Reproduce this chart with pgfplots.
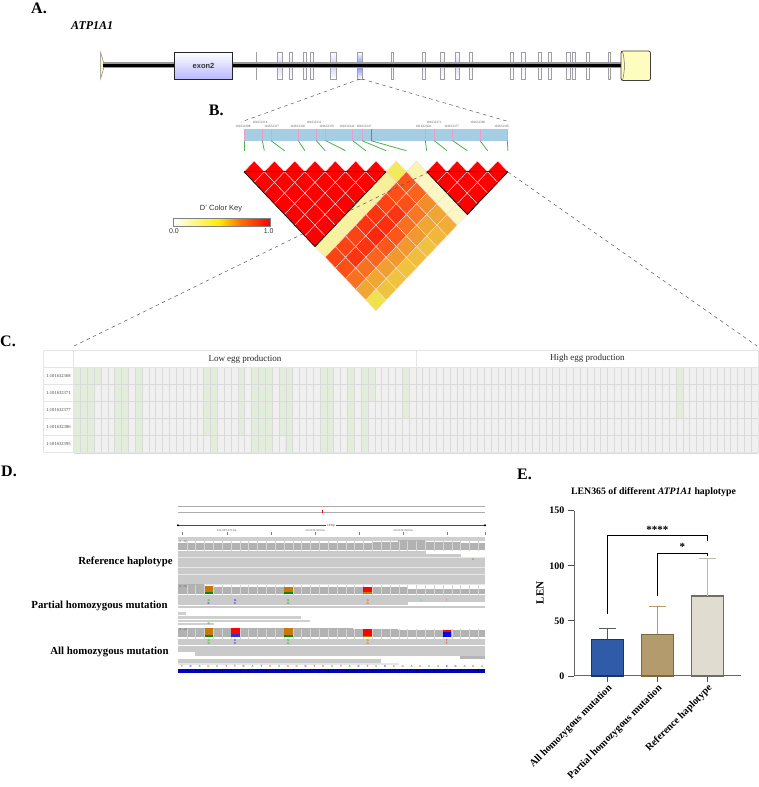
\documentclass[border=0pt]{standalone}
\usepackage{fontspec}
\setmainfont{Liberation Serif}
\setsansfont{Liberation Sans}
\usepackage{pgfplots}
\usepackage{pgfplotstable}
\pgfplotsset{compat=1.18}

\definecolor{ldband}{HTML}{A6CEE3}
\definecolor{ldtick}{HTML}{E8A0C8}
\definecolor{ldgreen}{HTML}{4CAF50}
\definecolor{cgrey}{HTML}{F0F0F0}
\definecolor{cline}{HTML}{DADADA}
\definecolor{cgreen}{HTML}{E2EEDB}
\definecolor{readc}{HTML}{CACACA}
\definecolor{readbg}{HTML}{E6E6E6}
\definecolor{covc}{HTML}{B2B2B2}
\definecolor{nucA}{HTML}{30C030}
\definecolor{nucC}{HTML}{3030D0}
\definecolor{nucG}{HTML}{D08020}
\definecolor{nucT}{HTML}{E03030}
\definecolor{mutO}{HTML}{C87808}
\definecolor{mutG}{HTML}{008C00}
\definecolor{barA}{HTML}{2F5BA8}
\definecolor{barAe}{HTML}{1A3560}
\definecolor{barB}{HTML}{B39B6E}
\definecolor{barBe}{HTML}{7A6840}
\definecolor{barC}{HTML}{E0DCD0}
\definecolor{barCe}{HTML}{6E6E66}

\newcommand{\fs}[1]{\fontsize{#1}{#1}\selectfont}
\newcommand{\rect}[5]{\addplot[fill=#5,draw=none,forget plot] coordinates {(#1,#2)(#3,#2)(#3,#4)(#1,#4)} -- cycle;}
\newcommand{\seg}[5]{\addplot[color=#5,line width=.8pt,forget plot] coordinates {(#1,#2)(#3,#4)};}
\newcommand{\exon}[3]{\addplot[draw=gray!75,line width=.7pt,top color=white,bottom color=white,middle color=#3,forget plot] coordinates {(#1,52)(#2,52)(#2,79)(#1,79)} -- cycle;}
\newcommand{\nt}[3]{\node[text=#3,font=\sffamily\bfseries\fs{3}] at (#1,666.6) {#2};}
\newcommand{\mm}[4]{\node[text=#3,font=\sffamily\bfseries\fs{3}] at (#1,#4) {#2};}
\newcommand{\plab}[3]{\node[anchor=west,font=\bfseries\fs{16},inner sep=0pt] at (#1,#2) {#3};}
\newcommand{\snp}[3]{\node[font=\fs{3.3},text=gray!70!black,inner sep=0pt] at (#1,#2) {#3};}
\newcommand{\hap}[2]{\node[font=\bfseries\fs{10.8},inner sep=0pt] at (#1) {#2};}

\pgfplotstableread{
x k
186.8 1
195.6 2
204.5 3
213.3 4
222.1 5
231 6
239.8 7
248.6 8
257.5 9
266.3 10
275.1 11
284 12
292.8 13
301.6 14
310.5 15
319.3 16
328.1 17
336.9 18
345.8 19
354.6 20
363.4 21
372.3 22
381.1 23
389.9 24
398.8 25
407.6 26
416.4 27
425.2 28
434.1 29
442.9 30
451.7 31
460.6 32
469.4 33
478.2 34
}\igvcells

\begin{document}
\begin{tikzpicture}[x=1pt,y=1pt]
\path[use as bounding box] (0,0) rectangle (759,787);

% page canvas, one unit is one pixel of the figure
\begin{axis}[
    at={(0pt,0pt)}, anchor=south west, scale only axis,
    width=759pt, height=787pt,
    xmin=0, xmax=759, ymin=0, ymax=787, y dir=reverse,
    hide axis, clip=false, clip mode=individual,
    colormap={ld}{rgb255(0pt)=(255,255,255); rgb255(45pt)=(240,232,80); rgb255(70pt)=(240,160,48); rgb255(85pt)=(250,100,30); rgb255(100pt)=(255,0,0)},
    point meta min=0, point meta max=1,
]
% A: gene model
\plab{31}{8}{A.}
\node[anchor=west,font=\bfseries\itshape\fs{12},inner sep=0pt] at (71,26) {ATP1A1};
\exon{256}{256.8}{blue!15}
\exon{277.6}{282.4}{blue!15}
\exon{289}{292}{blue!10}
\exon{303}{306.5}{blue!6}
\exon{310}{313}{blue!6}
\exon{330.6}{336}{blue!18}
\exon{357.4}{362}{blue!50}
\exon{391}{393.4}{blue!6}
\exon{422}{425.4}{blue!8}
\exon{440.8}{444.7}{blue!10}
\exon{455}{459}{blue!15}
\exon{469}{472.4}{blue!6}
\exon{510}{513}{blue!6}
\exon{521.8}{525}{blue!6}
\exon{538}{541}{blue!6}
\exon{548}{551}{blue!6}
\exon{566.8}{570}{blue!6}
\exon{572}{575}{blue!6}
\exon{586.5}{589}{blue!5}
\exon{608}{610}{blue!5}
\addplot[draw=gray,line width=.5pt,fill=yellow!25,forget plot] coordinates {(100.5,52)(104.5,65.5)(100.5,79)} -- cycle;
\addplot[color=gray!80,line width=6pt,forget plot] coordinates {(103,65.5)(623,65.5)};
\addplot[color=black,line width=3.6pt,forget plot] coordinates {(103,65.5)(623,65.5)};
\addplot[draw=black!85,line width=.9pt,top color=white,bottom color=blue!28,forget plot] coordinates {(174.5,52)(232,52)(232,79.5)(174.5,79.5)} -- cycle;
\node[font=\sffamily\bfseries\fs{7.5},text=black!80] at (203.5,65.5) {exon2};
\draw[draw=black!75,line width=.8pt,fill=yellow!25,rounded corners=2pt] (621,51) rectangle (650.5,80.5);
\draw[draw=black!60,line width=.5pt] (622.5,51.5) .. controls (625,60) and (625,72) .. (622.5,80);

% B: SNP track
\plab{208.7}{110.7}{B.}
\rect{244}{129}{507.5}{140.7}{ldband}
\addplot[color=ldtick,line width=1pt,forget plot] coordinates {(244,129)(244,140.7)};
\addplot[color=ldtick,line width=1pt,forget plot] coordinates {(262.3,129)(262.3,140.7)};
\addplot[color=ldtick,line width=1pt,forget plot] coordinates {(271,129)(271,140.7)};
\addplot[color=ldtick,line width=1pt,forget plot] coordinates {(298.3,129)(298.3,140.7)};
\addplot[color=ldtick,line width=1pt,forget plot] coordinates {(316.3,129)(316.3,140.7)};
\addplot[color=ldtick,line width=1pt,forget plot] coordinates {(325.7,129)(325.7,140.7)};
\addplot[color=ldtick,line width=1pt,forget plot] coordinates {(352.7,129)(352.7,140.7)};
\addplot[color=ldtick,line width=1pt,forget plot] coordinates {(362,129)(362,140.7)};
\addplot[color=gray,line width=1pt,forget plot] coordinates {(371,129)(371,140.7)};
\addplot[color=ldtick,line width=1pt,forget plot] coordinates {(425.3,129)(425.3,140.7)};
\addplot[color=ldtick,line width=1pt,forget plot] coordinates {(434.3,129)(434.3,140.7)};
\addplot[color=ldtick,line width=1pt,forget plot] coordinates {(452.7,129)(452.7,140.7)};
\addplot[color=ldtick,line width=1pt,forget plot] coordinates {(480,129)(480,140.7)};
\addplot[color=ldtick,line width=1pt,forget plot] coordinates {(507.3,129)(507.3,140.7)};
\seg{244}{140.7}{244}{150.7}{ldgreen}
\seg{262.3}{140.7}{264.3}{150.7}{ldgreen}
\seg{271}{140.7}{284.6}{150.7}{ldgreen}
\seg{298.3}{140.7}{304.9}{150.7}{ldgreen}
\seg{316.3}{140.7}{325.2}{150.7}{ldgreen}
\seg{325.7}{140.7}{345.5}{150.7}{ldgreen}
\seg{352.7}{140.7}{365.8}{150.7}{ldgreen}
\seg{362}{140.7}{386.1}{150.7}{ldgreen}
\seg{371}{140.7}{406.4}{150.7}{ldgreen}
\seg{425.3}{140.7}{426.7}{150.7}{ldgreen}
\seg{434.3}{140.7}{447}{150.7}{ldgreen}
\seg{452.7}{140.7}{467.3}{150.7}{ldgreen}
\seg{480}{140.7}{487.6}{150.7}{ldgreen}
\seg{507.3}{140.7}{507.9}{150.7}{ldgreen}
\snp{243}{126}{101632308}
\snp{260}{122}{101632314}
\snp{271.7}{126}{101632317}
\snp{297.7}{126}{101632326}
\snp{314}{122}{101632332}
\snp{326.7}{126}{101632335}
\snp{347}{126}{101632344}
\snp{364}{126}{101632347}
\snp{423.3}{126}{101632368}
\snp{434}{122}{101632371}
\snp{451.7}{126}{101632377}
\snp{477.7}{122}{101632386}
\snp{501.7}{126}{101632395}

% B: pairwise D' between SNP i and SNP j
\addplot[scatter, only marks, mark=square*, mark size=7.18pt,
    mark options={yscale=1.054,rotate=45,line width=.4pt},
    scatter/use mapped color={draw=white!85!red,fill=mapped color},
    scatter src=explicit, forget plot]
 table[row sep=\\, x expr=244+(\thisrow{i}+\thisrow{j}-2)*10.15, y expr=171.7+(\thisrow{j}-\thisrow{i}-1)*10.7, meta=d] {
i j d\\
1 2 1\\ 1 3 1\\ 1 4 1\\ 1 5 1\\ 1 6 1\\ 1 7 1\\ 1 8 1\\
2 3 1\\ 2 4 1\\ 2 5 1\\ 2 6 1\\ 2 7 1\\ 2 8 1\\
3 4 1\\ 3 5 1\\ 3 6 1\\ 3 7 1\\ 3 8 1\\
4 5 1\\ 4 6 1\\ 4 7 1\\ 4 8 1\\
5 6 1\\ 5 7 1\\ 5 8 1\\
6 7 1\\ 6 8 1\\
7 8 1\\
8 9 .42\\ 7 9 .27\\ 6 9 .25\\ 5 9 .25\\ 4 9 .25\\ 3 9 .25\\ 2 9 .25\\ 1 9 .25\\
9 10 .2\\ 9 11 .16\\ 9 12 .15\\ 9 13 .14\\ 9 14 .15\\
10 11 1\\ 10 12 1\\ 10 13 1\\ 10 14 1\\
11 12 1\\ 11 13 1\\ 11 14 1\\
12 13 1\\ 12 14 1\\
13 14 1\\
8 10 .87\\ 7 10 .88\\ 6 10 .9\\ 5 10 .92\\ 4 10 .92\\ 3 10 .9\\ 2 10 .9\\ 1 10 .9\\
8 11 .85\\ 7 11 .88\\ 6 11 .92\\ 5 11 .93\\ 4 11 .94\\ 3 11 .92\\ 2 11 .92\\ 1 11 .88\\
8 12 .75\\ 7 12 .8\\ 6 12 .82\\ 5 12 .87\\ 4 12 .87\\ 3 12 .85\\ 2 12 .82\\ 1 12 .82\\
8 13 .68\\ 7 13 .68\\ 6 13 .72\\ 5 13 .72\\ 4 13 .72\\ 3 13 .7\\ 2 13 .68\\ 1 13 .68\\
8 14 .65\\ 7 14 .62\\ 6 14 .58\\ 5 14 .6\\ 4 14 .58\\ 3 14 .58\\ 2 14 .58\\ 1 14 .47\\
};
\addplot[color=black,line width=.8pt,forget plot] coordinates {(244,171.7)(315,246.6)(386,171.7)};
\addplot[color=black,line width=.8pt,forget plot] coordinates {(426.7,171.7)(467.3,214.5)(507.9,171.7)};
\addplot[color=red!55!black,line width=1pt,forget plot] coordinates {(244,171.7)(386,171.7)};
\addplot[color=red!55!black,line width=1pt,forget plot] coordinates {(426.7,171.7)(507.9,171.7)};

% colour key
\node[font=\sffamily\fs{7.5},text=black!80] at (221,209) {D' Color Key};
\fill[left color=white,right color=yellow!85!orange] (173.3,218.7) rectangle (219,226);
\fill[left color=yellow!85!orange,right color=orange!90!red] (219,218.7) rectangle (240,226);
\fill[left color=orange!90!red,right color=red] (240,218.7) rectangle (270,226);
\draw[gray,line width=.6pt] (173.3,218.7) rectangle (270,226);
\node[font=\sffamily\fs{7},text=black!80] at (174,231.5) {0.0};
\node[font=\sffamily\fs{7},text=black!80] at (268.7,231.5) {1.0};

% dashed zoom lines
\addplot[color=black!65,line width=.5pt,dash pattern=on 3.5pt off 3.5pt,forget plot] coordinates {(360,79)(241,122)};
\addplot[color=black!65,line width=.5pt,dash pattern=on 3.5pt off 3.5pt,forget plot] coordinates {(362,79)(510,122)};
\addplot[color=black!65,line width=.5pt,dash pattern=on 3.5pt off 3.5pt,forget plot] coordinates {(74,346)(426.7,173)};
\addplot[color=black!65,line width=.5pt,dash pattern=on 3.5pt off 3.5pt,forget plot] coordinates {(507.9,172)(757,346)};

% C: frame around genotype table
\plab{0}{341.7}{C.}
\addplot[color=cline!70,line width=.6pt,forget plot] coordinates {(43.3,350)(758,350)(758,452.7)(43.3,452.7)} -- cycle;
\addplot[color=cline!70,line width=.6pt,forget plot] coordinates {(43.3,367.3)(73.5,367.3)};
\addplot[color=cline!70,line width=.6pt,forget plot] coordinates {(43.3,384.4)(73.5,384.4)};
\addplot[color=cline!70,line width=.6pt,forget plot] coordinates {(43.3,401.5)(73.5,401.5)};
\addplot[color=cline!70,line width=.6pt,forget plot] coordinates {(43.3,418.5)(73.5,418.5)};
\addplot[color=cline!70,line width=.6pt,forget plot] coordinates {(43.3,435.6)(73.5,435.6)};
\addplot[color=cline!70,line width=.6pt,forget plot] coordinates {(73.5,350)(73.5,367.3)};
\addplot[color=cline!70,line width=.6pt,forget plot] coordinates {(416,350)(416,367.3)};
\node[font=\fs{9},text=black!85] at (245,359) {Low egg production};
\node[font=\fs{9},text=black!85] at (587.3,358.5) {High egg production};
\node[font=\fs{4.6},text=black!75] at (58.5,375.8) {1:101632368};
\node[font=\fs{4.6},text=black!75] at (58.5,392.9) {1:101632371};
\node[font=\fs{4.6},text=black!75] at (58.5,410) {1:101632377};
\node[font=\fs{4.6},text=black!75] at (58.5,427) {1:101632386};
\node[font=\fs{4.6},text=black!75] at (58.5,444.1) {1:101632395};

% D: read pile-up
\plab{1}{471}{D.}
\hap{125.5,562}{Reference haplotype}
\hap{99.5,606}{Partial homozygous mutation}
\hap{109.5,652}{All homozygous mutation}
\addplot[color=gray!65,line width=.7pt,forget plot] coordinates {(178,506.7)(485,506.7)};
\addplot[color=gray!65,line width=.7pt,forget plot] coordinates {(178,512.3)(485,512.3)};
\rect{321.9}{509.6}{322.9}{513.4}{red}
\addplot[color=black!70,line width=.5pt,forget plot] coordinates {(178,525.3)(485,525.3)};
\addplot[only marks,mark=triangle*,mark size=1pt,color=black,forget plot] coordinates {(485,525.3)(178,525.3)};
\node[fill=white,inner sep=1pt,font=\sffamily\fs{3.2},text=black!70] at (331,525.3) {18 bp};
\node[font=\sffamily\fs{2.8},text=black!60,inner sep=0pt] at (226.7,530.5) {101,632,370 bp};
\node[font=\sffamily\fs{2.8},text=black!60,inner sep=0pt] at (315,530.5) {101,632,380 bp};
\node[font=\sffamily\fs{2.8},text=black!60,inner sep=0pt] at (403,530.5) {101,632,390 bp};
\addplot[only marks,mark=|,mark size=1.4pt,mark options={color=gray,line width=.35pt},forget plot] coordinates {(182.3,533.7)(226.7,533.7)(270.7,533.7)(315,533.7)(359,533.7)(403.3,533.7)(447.3,533.7)(484.7,533.7)};
\rect{178}{536.7}{485}{540.5}{readbg!90!black}
% track 1 coverage
\rect{178}{543}{371.7}{550}{covc}
\rect{371.7}{541.7}{398.3}{550}{covc}
\rect{398.3}{540}{425}{550}{covc}
\rect{425}{542}{460}{550}{covc}
\rect{460}{543}{485}{550}{covc}
\addplot[only marks,mark=|,mark size=5pt,mark options={color=white!45!covc,line width=.4pt},forget plot] table[x=x,y expr=545.5] {\igvcells};
\node[font=\sffamily\fs{2.5},text=black!60,anchor=west,inner sep=0pt] at (179,542.2) {[0 - 45]};
% track 1 reads
\rect{178}{554}{485}{584.8}{readbg}
\rect{178}{550.7}{425.7}{553.7}{readc}
\rect{178}{554.1}{460.7}{557.1}{readc}
\rect{178}{557.5}{485}{560.5}{readc}
\rect{178}{561}{485}{564}{readc}
\rect{178}{564.4}{485}{567.4}{readc}
\rect{178}{567.8}{485}{570.8}{readc}
\rect{178}{571.2}{485}{574.2}{readc}
\rect{178}{574.6}{485}{577.6}{readc}
\rect{178}{578}{485}{581}{readc}
\rect{178}{581.4}{485}{584.4}{readc}
\rect{460.7}{554}{485}{557.2}{white}
\mm{473.3}{A}{nucA}{559}
% track 2 coverage
\rect{178}{584.3}{204}{594}{covc}
\rect{204}{586.7}{407}{594}{covc}
\rect{407}{588.5}{485}{594}{covc}
\addplot[only marks,mark=|,mark size=5pt,mark options={color=white!45!covc,line width=.4pt},forget plot] table[x=x,y expr=590] {\igvcells};
\node[font=\sffamily\fs{2.5},text=black!60,anchor=west,inner sep=0pt] at (179,586.5) {[0 - 28]};
\rect{204.5}{586}{213.3}{592}{mutO}
\rect{204.5}{592}{213.3}{594}{mutG}
\rect{284}{586.5}{292.8}{592}{mutO}
\rect{284}{592}{292.8}{594}{mutG}
\rect{363.4}{587}{372.3}{592}{red}
\rect{363.4}{592}{372.3}{594}{mutO}
% track 2 reads
\rect{178}{594.7}{485}{597.8}{readc}
\rect{178}{598.2}{485}{601.6}{readc}
\rect{178}{602}{407.7}{605.3}{readc}
\rect{178}{605.7}{485}{608.3}{readc}
\mm{208.7}{G}{nucA}{600}
\mm{208.7}{C}{nucC}{603.6}
\mm{235.3}{G}{nucC}{600}
\mm{235.3}{C}{nucC}{603.6}
\mm{288.3}{G}{nucA}{600}
\mm{288.3}{G}{nucA}{603.6}
\mm{367.8}{G}{nucG}{600}
\mm{367.8}{G}{nucG}{603.6}
\mm{420.7}{G}{nucA!60}{600}
\mm{446.7}{T}{nucT!60}{600}
\rect{178}{612.3}{186.3}{615}{readbg!90!black}
\rect{178}{616.3}{301}{619.3}{readbg!90!black}
\rect{178}{619.5}{310}{622.3}{readbg!90!black}
\rect{178}{622.6}{213.5}{625.3}{readbg!90!black}
\mm{208.7}{G}{nucA}{623.9}
% track 3 coverage
\rect{178}{628.3}{353}{637.3}{covc}
\rect{353}{629.3}{398}{637.3}{covc}
\rect{398}{630}{485}{637.3}{covc}
\addplot[only marks,mark=|,mark size=5pt,mark options={color=white!45!covc,line width=.4pt},forget plot] table[x=x,y expr=633.5] {\igvcells};
\node[font=\sffamily\fs{2.5},text=black!60,anchor=west,inner sep=0pt] at (179,629.8) {[0 - 34]};
\rect{204.5}{628.3}{213.3}{634.5}{mutO}
\rect{204.5}{634.5}{213.3}{637.3}{mutG}
\rect{231}{628}{239.8}{634}{red}
\rect{231}{634}{239.8}{637.3}{nucC}
\rect{284}{628.3}{292.8}{634.5}{mutO}
\rect{284}{634.5}{292.8}{637.3}{mutG}
\rect{363.4}{629}{372.3}{635.5}{red}
\rect{363.4}{635.5}{372.3}{637.3}{mutO}
\rect{442.5}{630}{451}{632}{red}
\rect{442.5}{632}{451}{637.3}{blue}
% track 3 reads
\rect{178}{638.7}{485}{641.7}{readc}
\rect{178}{642}{485}{645.1}{readc}
\rect{178}{645.5}{485}{648.6}{readc}
\rect{178}{649}{485}{652}{readc}
\rect{195}{652.4}{485}{655.5}{readc}
\rect{460}{656}{485}{658.9}{readc!90!black}
\rect{178}{659}{381}{662.5}{readc}
\rect{178}{662.8}{399}{664.8}{readbg}
\mm{208.7}{G}{nucA}{640.2}
\mm{208.7}{G}{nucA}{643.6}
\mm{235.3}{C}{nucC}{640.2}
\mm{235.3}{C}{nucC}{643.6}
\mm{288.3}{G}{nucA}{640.2}
\mm{288.3}{G}{nucA}{643.6}
\mm{367.8}{G}{nucG}{640.2}
\mm{367.8}{G}{nucG}{643.6}
\mm{446.7}{T}{nucT}{640.2}
\mm{446.7}{T}{nucT}{643.6}
% reference sequence
\nt{182}{T}{nucT}\nt{190.8}{C}{nucC}\nt{199.7}{A}{nucA}\nt{208.5}{G}{nucG}\nt{217.3}{A}{nucA}
\nt{226.2}{T}{nucT}\nt{235}{T}{nucT}\nt{243.8}{C}{nucC}\nt{252.7}{A}{nucA}\nt{261.5}{T}{nucT}
\nt{270.3}{G}{nucG}\nt{279.1}{A}{nucA}\nt{288}{G}{nucG}\nt{296.8}{G}{nucG}\nt{305.6}{C}{nucC}
\nt{314.5}{T}{nucT}\nt{323.3}{G}{nucG}\nt{332.1}{A}{nucA}\nt{341}{T}{nucT}\nt{349.8}{A}{nucA}
\nt{358.6}{C}{nucC}\nt{367.5}{T}{nucT}\nt{376.3}{A}{nucA}\nt{385.1}{C}{nucC}\nt{394}{A}{nucA}
\nt{402.8}{G}{nucG}\nt{411.6}{A}{nucA}\nt{420.4}{G}{nucG}\nt{429.3}{A}{nucA}\nt{438.1}{A}{nucA}
\nt{446.9}{C}{nucC}\nt{455.8}{C}{nucC}\nt{464.6}{A}{nucA}\nt{473.4}{G}{nucG}\nt{482.3}{A}{nucA}
\rect{178}{669.3}{485}{672.7}{blue!75!black}
\addplot[only marks,mark=|,mark size=1.7pt,mark options={color=blue!45!black,line width=.6pt},forget plot] table[x=x,y expr=671] {\igvcells};

% E: labels outside the bar axis
\plab{517}{474}{E.}
\node[font=\bfseries\fs{9.8}] at (653.5,492) {LEN365 of different \textit{ATP1A1} haplotype};
\node[font=\bfseries\fs{11},rotate=90] at (540,593) {LEN};
\end{axis}

% C: genotype cells, column and row of each non-reference call
\begin{axis}[
    at={(73.5pt,334.3pt)}, anchor=south west, scale only axis,
    width=684.5pt, height=85.4pt,
    xmin=0, xmax=100, ymin=0, ymax=5, y dir=reverse,
    xtick={0,1,...,100}, ytick={0,1,...,5},
    xticklabels={}, yticklabels={},
    major tick length=0pt, grid=major,
    grid style={cline,line width=.35pt},
    axis line style={cline!70,line width=.6pt},
    axis background/.style={fill=cgrey},
    axis on top, clip mode=individual,
]
\addplot[only marks, mark=square*, mark size=1pt, color=cgreen,
    mark options={xscale=3.43,yscale=8.54,draw=none,fill=cgreen}]
 table[row sep=\\, x expr=\thisrow{c}-.5, y expr=\thisrow{r}-.5] {
c r\\
1 1\\ 1 2\\ 1 3\\ 1 4\\ 1 5\\
2 1\\ 2 2\\ 2 3\\ 2 4\\ 2 5\\
3 1\\ 3 2\\ 3 3\\ 3 4\\ 3 5\\
4 1\\
7 1\\ 7 2\\ 7 3\\ 7 4\\ 7 5\\
8 1\\ 8 2\\ 8 3\\ 8 4\\ 8 5\\
10 1\\ 10 2\\ 10 3\\ 10 4\\ 10 5\\
20 1\\ 20 2\\ 20 3\\ 20 4\\
21 1\\ 21 2\\ 21 3\\ 21 4\\ 21 5\\
25 1\\ 25 2\\ 25 3\\ 25 4\\
27 1\\ 27 2\\ 27 3\\ 27 4\\ 27 5\\
28 1\\ 28 2\\ 28 3\\ 28 4\\ 28 5\\
29 1\\ 29 2\\ 29 3\\ 29 4\\ 29 5\\
31 1\\ 31 2\\ 31 3\\ 31 4\\
32 1\\ 32 2\\ 32 3\\ 32 4\\ 32 5\\
37 1\\ 37 2\\ 37 3\\ 37 4\\ 37 5\\
38 1\\ 38 2\\ 38 3\\ 38 4\\ 38 5\\
41 1\\ 41 2\\ 41 3\\ 41 4\\ 41 5\\
43 1\\ 43 2\\ 43 3\\ 43 4\\ 43 5\\
44 1\\ 44 2\\
49 1\\ 49 2\\ 49 3\\
89 1\\ 89 2\\ 89 3\\
};
\end{axis}

% E: LEN365 bars
\begin{axis}[
    at={(574pt,111pt)}, anchor=south west, scale only axis,
    width=167pt, height=165.3pt,
    xmin=-.666, xmax=2.674, ymin=0, ymax=150,
    axis lines=left, axis line style={-,black!60,line width=1pt},
    xtick={0,1,2},
    xticklabels={All homozygous mutation,Partial homozygous mutation,Reference haplotype},
    ytick={0,50,100,150},
    tick align=outside, tick style={black!70,line width=.8pt},
    major tick length=6pt,
    /pgf/number format/assume math mode=true,
    yticklabel style={font=\bfseries\fs{10}},
    xticklabel style={font=\bfseries\fs{10.2},rotate=45,anchor=north east,inner sep=1pt},
    clip=false,
    ybar, bar width=31.6pt,
]
\addplot[fill=barA,draw=barAe,line width=1.1pt,bar shift=0pt,
    error bars/.cd, y dir=plus, y explicit,
    error bar style={black!65,line width=.7pt},
    error mark options={rotate=90,mark size=8.3pt,black!65,line width=.7pt}]
 coordinates {(0,33.3) +- (0,9.9)};
\addplot[fill=barB,draw=barBe,line width=1.1pt,bar shift=0pt,
    error bars/.cd, y dir=plus, y explicit,
    error bar style={barB,line width=.7pt},
    error mark options={rotate=90,mark size=8.3pt,barB,line width=.7pt}]
 coordinates {(1,37.8) +- (0,25.4)};
\addplot[fill=barC,draw=barCe,line width=1.1pt,bar shift=0pt,
    error bars/.cd, y dir=plus, y explicit,
    error bar style={barC!85!black,line width=.7pt},
    error mark options={rotate=90,mark size=8.3pt,barC!85!black,line width=.7pt}]
 coordinates {(2,72.6) +- (0,34.2)};
\addplot[sharp plot,color=black,line width=.7pt,forget plot] coordinates {(0,56.2)(0,127.3)(2,127.3)(2,122.8)};
\addplot[sharp plot,color=black,line width=.7pt,forget plot] coordinates {(1,72.6)(1,111.3)(2,111.3)(2,108.9)};
\node[font=\bfseries\fs{11}] at (axis cs:1,133) {****};
\node[font=\bfseries\fs{11}] at (axis cs:1.5,117) {*};
\end{axis}
\end{tikzpicture}
\end{document}
